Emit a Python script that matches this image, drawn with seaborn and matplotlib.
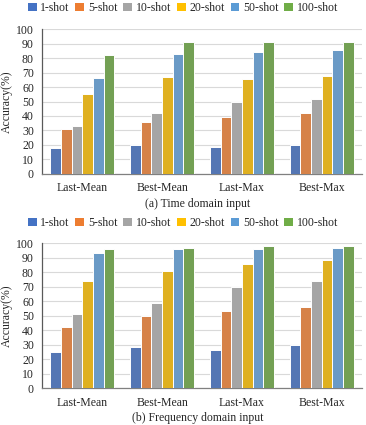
import pandas as pd
import seaborn as sns
import matplotlib.pyplot as plt
from matplotlib.patches import Patch


# values
methods = ["Last-Mean", "Best-Mean", "Last-Max", "Best-Max"]
shots = ["1-shot", "5-shot", "10-shot", "20-shot", "50-shot", "100-shot"]
colors = ["#4472C4", "#ED7D31", "#A5A5A5", "#FFC000", "#5B9BD5", "#70AD47"]

# (a) time domain input, one list per method in shot order
time_last_mean = [18.0, 30.7, 32.9, 55.5, 66.3, 82.4]
time_best_mean = [20.0, 36.1, 42.1, 67.0, 83.1, 91.1]
time_last_max = [18.5, 39.5, 49.5, 65.8, 84.5, 91.1]
time_best_max = [20.0, 42.1, 51.5, 67.7, 85.8, 91.1]

# (b) frequency domain input
freq_last_mean = [25.3, 42.2, 50.9, 74.3, 93.2, 95.8]
freq_best_mean = [28.2, 49.6, 59.0, 81.0, 95.8, 97.1]
freq_last_max = [26.1, 53.6, 70.2, 86.0, 95.8, 97.8]
freq_best_max = [30.0, 56.2, 73.7, 88.4, 96.5, 97.8]

captions = ["(a) Time domain input", "(b) Frequency domain input"]


def long_table(rows):
    recs = []
    for m, vals in zip(methods, rows):
        for s, v in zip(shots, vals):
            recs.append({"Method": m, "Shot": s, "Accuracy": v})
    return pd.DataFrame(recs)


time_df = long_table([time_last_mean, time_best_mean, time_last_max, time_best_max])
freq_df = long_table([freq_last_mean, freq_best_mean, freq_last_max, freq_best_max])

sns.set_style("white")
plt.rcParams['font.family'] = ['Liberation Serif', 'DejaVu Serif']
plt.rcParams['font.size'] = 8.5

fig = plt.figure(figsize=(3.66, 4.25), dpi=100)
H = 425.0
W = 366.0

# axes boxes in pixels: (left, top, right, bottom)
boxes = [(42.3, 29.3, 361.7, 173.7), (42.3, 243.3, 361.7, 388.3)]
legend_y = [8, 223]
caption_y = [204, 418]

for df, box, cap, ly, cy in zip([time_df, freq_df], boxes, captions, legend_y, caption_y):
    l, t, r, b = box
    ax = fig.add_axes([l / W, 1 - b / H, (r - l) / W, (b - t) / H])
    sns.barplot(data=df, x="Method", y="Accuracy", hue="Shot", order=methods,
                hue_order=shots, palette=colors, width=0.8, ax=ax,
                edgecolor="white", linewidth=0.7, legend=False, zorder=3)
    ax.set_ylim(0, 100)
    ax.set_yticks(range(0, 101, 10))
    ax.yaxis.grid(True, color="#D9D9D9", linewidth=0.8, zorder=0)
    ax.set_axisbelow(True)
    ax.set_xlabel("")
    ax.set_ylabel("Accuracy(%)", fontsize=8.5, labelpad=2)
    ax.tick_params(axis="x", length=0, pad=6, labelsize=8.5)
    ax.tick_params(axis="y", length=0, pad=6, labelsize=8.5)
    for side in ["top", "right"]:
        ax.spines[side].set_visible(False)
    ax.spines["left"].set_color("#595959")
    ax.spines["left"].set_linewidth(0.9)
    ax.spines["bottom"].set_color("#808080")
    ax.spines["bottom"].set_linewidth(0.9)

    handles = [Patch(facecolor=c, edgecolor="none") for c in colors]
    fig.legend(handles, shots, loc="center", bbox_to_anchor=(0.5, 1 - ly / H),
               ncol=6, frameon=False, fontsize=8.5, handlelength=0.75,
               handleheight=0.75, handletextpad=0.3, columnspacing=0.5,
               borderaxespad=0)
    fig.text(((l + r) / 2 - 4) / W, 1 - cy / H, cap, ha="center", va="center",
             fontsize=8.5)

fig.savefig("out.png", dpi=100)
